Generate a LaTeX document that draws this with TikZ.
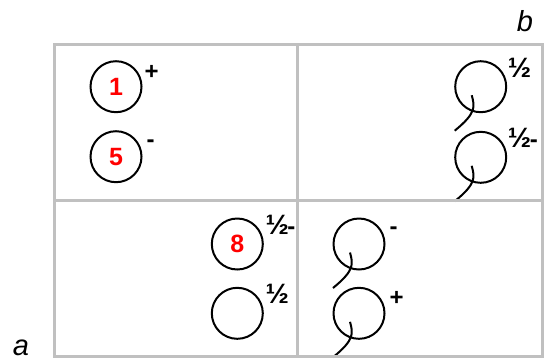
\documentclass[tikz,border=0pt]{standalone}
\usepackage{fontspec}
\setmainfont{Liberation Sans}
\definecolor{gridgray}{RGB}{192,192,192}
\newcommand{\halfsym}{{\fontsize{28}{28}\selectfont ½}}
\newcommand{\halfminus}{\halfsym\kern-1.5pt-}
\begin{document}
\begin{tikzpicture}[x=1pt,y=-1pt,
  ring/.style={circle,draw=black,line width=2pt,minimum size=51pt,inner sep=0pt,
    font=\fontsize{25}{25}\selectfont\bfseries,text=red},
  suplabel/.style={anchor=base west,inner sep=0pt,font=\fontsize{24}{24}\selectfont\bfseries},
  axislabel/.style={anchor=base,inner sep=0pt,font=\fontsize{29}{29}\selectfont\itshape},
  tail/.style={line width=2pt},
  gridline/.style={draw=gridgray,line width=3pt}
]
\useasboundingbox (0,0) rectangle (545,360);

% circles
\node[ring] (c1) at (116,86.7) {1};
\node[ring] (c5) at (116,156.7) {5};
\node[ring] (tr1) at (480.7,86.7) {};
\node[ring] (tr2) at (480.7,157.3) {};
\node[ring] (c8) at (237.3,244) {8};
\node[ring] (bl2) at (237.3,313.3) {};
\node[ring] (br1) at (359,244) {};
\node[ring] (br2) at (359,313.3) {};

% tails
\foreach \n in {tr1,tr2,br1,br2}{
  \draw[tail] ([shift={(-9,8.5)}]\n.center) .. controls ([shift={(-6,20)}]\n.center) and ([shift={(-4,26)}]\n.center) .. ([shift={(-26,44)}]\n.center);
}

% labels
\node[suplabel] (l1) at ([shift={(28.5,-7.5)}]c1.center) {+};
\node[suplabel] (l5) at ([shift={(30.5,-9)}]c5.center) {-};
\node[suplabel] (ltr1) at ([shift={(27,-9.5)}]tr1.center) {\halfsym};
\node[suplabel] (ltr2) at ([shift={(27,-9.5)}]tr2.center) {\halfminus};
\node[suplabel] (l8) at ([shift={(28,-9.5)}]c8.center) {\halfminus};
\node[suplabel] (lbl2) at ([shift={(28,-9.5)}]bl2.center) {\halfsym};
\node[suplabel] (lbr1) at ([shift={(30.5,-9.5)}]br1.center) {-};
\node[suplabel] (lbr2) at ([shift={(30.5,-7.5)}]br2.center) {+};

% grid
\draw[gridline] (54,44) rectangle (542,356);
\draw[gridline] (297,44) -- (297,356);
\draw[gridline] (54,200) -- (542,200);

% axis labels
\node[axislabel] (b) at (525,31.5) {b};
\node[axislabel] (a) at (21,355.5) {a};
\end{tikzpicture}
\end{document}
